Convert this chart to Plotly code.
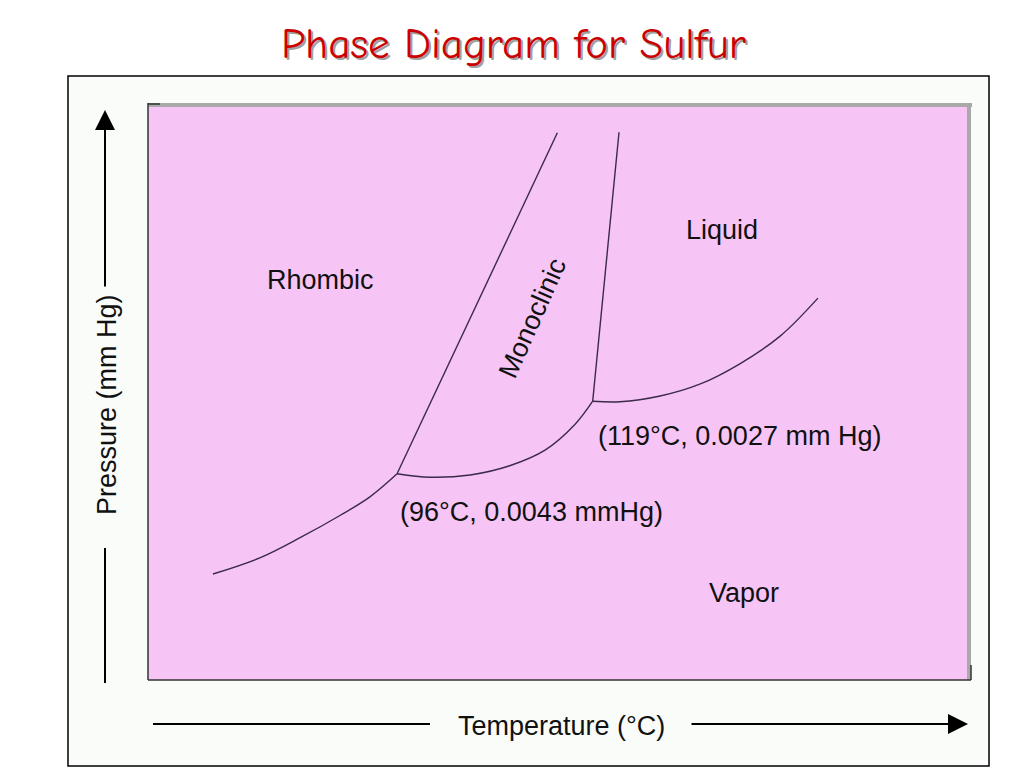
import plotly.graph_objects as go

# Schematic coordinates (0-100 on each axis; diagram has no numeric scale)
rv_x = [7.9, 13.6, 18.5, 23.4, 27.0, 30.3]          # rhombic / vapor
rv_y = [18.4, 21.2, 24.7, 28.6, 31.8, 35.8]
rm_x = [30.3, 49.8]                                  # rhombic / monoclinic
rm_y = [35.8, 95.0]
mv_x = [30.3, 34.3, 39.2, 44.0, 48.3, 51.9, 54.1]    # monoclinic / vapor
mv_y = [35.8, 35.2, 35.6, 37.2, 39.9, 44.3, 48.4]
ml_x = [54.1, 57.3]                                  # monoclinic / liquid
ml_y = [48.4, 95.1]
lv_x = [54.1, 57.4, 62.3, 67.2, 72.0, 76.9, 81.5]    # liquid / vapor
lv_y = [48.4, 48.3, 49.3, 51.4, 54.9, 59.7, 66.3]

region_labels = ["Rhombic", "Liquid", "Vapor", "(96°C, 0.0043 mmHg)", "(119°C, 0.0027 mm Hg)"]
region_x = [21.0, 69.8, 72.5, 46.6, 72.0]
region_y = [69.4, 78.1, 15.1, 29.2, 42.4]
mono_label, mono_x, mono_y = "Monoclinic", 46.8, 62.8

LINE = "#3b2a48"
PINK = "#f6c5f6"
FONT = "Liberation Sans, Arial, sans-serif"
FS = 27

# the page body has an 8px margin; figure is sized so it fits the window
OFF = 8
W, H = 1024 - OFF, 768 - OFF


def px(x):
    return (x - OFF) / W


def py(y):
    return 1 - (y - OFF) / H


fig = go.Figure()
for xs, ys, shape in [(rv_x, rv_y, "spline"), (rm_x, rm_y, "linear"), (mv_x, mv_y, "spline"),
                      (ml_x, ml_y, "linear"), (lv_x, lv_y, "spline")]:
    fig.add_trace(go.Scatter(x=xs, y=ys, mode="lines", line=dict(color=LINE, width=1.4, shape=shape),
                             hoverinfo="skip", showlegend=False))

fig.update_layout(
    width=W, height=H, margin=dict(l=0, r=0, t=0, b=0),
    paper_bgcolor="white", plot_bgcolor=PINK, showlegend=False,
    xaxis=dict(range=[0, 100], domain=[px(148), px(970)], visible=False, fixedrange=True),
    yaxis=dict(range=[0, 100], domain=[py(680), py(104)], visible=False, fixedrange=True),
)

shapes = [
    # outer box
    dict(type="rect", xref="paper", yref="paper", x0=px(68), x1=px(989), y0=py(766), y1=py(76),
         line=dict(color="black", width=1.5), fillcolor="#f9fcf8", layer="below"),
    # pink plot area
    dict(type="rect", xref="paper", yref="paper", x0=px(148), x1=px(970), y0=py(680), y1=py(104),
         line=dict(width=0), fillcolor=PINK, layer="below"),
    # plot area borders: gray top/right, dark left/bottom
    dict(type="line", xref="paper", yref="paper", x0=px(148), x1=px(972), y0=py(105), y1=py(105),
         line=dict(color="#a9a9a9", width=4)),
    dict(type="line", xref="paper", yref="paper", x0=px(969), x1=px(969), y0=py(104), y1=py(680),
         line=dict(color="#a9a9a9", width=4)),
    dict(type="line", xref="paper", yref="paper", x0=px(148), x1=px(148), y0=py(103), y1=py(680),
         line=dict(color="#333333", width=1.5)),
    dict(type="line", xref="paper", yref="paper", x0=px(148), x1=px(971), y0=py(680), y1=py(680),
         line=dict(color="#333333", width=1.5)),
    dict(type="line", xref="paper", yref="paper", x0=px(148), x1=px(160), y0=py(104), y1=py(104),
         line=dict(color="#333333", width=1.5)),
    dict(type="line", xref="paper", yref="paper", x0=px(971), x1=px(971), y0=py(665), y1=py(680),
         line=dict(color="#333333", width=1.5)),
    # axis arrow segments
    dict(type="line", xref="paper", yref="paper", x0=px(153), x1=px(430), y0=py(724), y1=py(724),
         line=dict(color="black", width=2)),
    dict(type="line", xref="paper", yref="paper", x0=px(105), x1=px(105), y0=py(548), y1=py(683),
         line=dict(color="black", width=2)),
]
fig.update_layout(shapes=shapes)

annotations = []
# title with shadow
for dx, dy, col in [(2, 2, "#a0a0a0"), (0, 0, "#cc0000")]:
    annotations.append(dict(xref="paper", yref="paper", x=px(513 + dx), y=py(44 + dy), showarrow=False,
                            text="Phase Diagram for Sulfur",
                            font=dict(family="Comic Sans MS, Comic Neue, Noto Sans, sans-serif", size=43, color=col),
                            xanchor="center", yanchor="middle"))
# arrows
annotations.append(dict(xref="paper", yref="paper", x=px(968), y=py(724), ax=-278, ay=0, text="",
                        showarrow=True, arrowhead=2, arrowsize=2, arrowwidth=2, arrowcolor="black"))
annotations.append(dict(xref="paper", yref="paper", x=px(105), y=py(110), ax=0, ay=178, text="",
                        showarrow=True, arrowhead=2, arrowsize=2, arrowwidth=2, arrowcolor="black"))
# axis titles
annotations.append(dict(xref="paper", yref="paper", x=px(561), y=py(726), text="Temperature (°C)",
                        xanchor="center", yanchor="middle",
                        showarrow=False, font=dict(family=FONT, size=FS, color="#111111")))
annotations.append(dict(xref="paper", yref="paper", x=px(107), y=py(405), text="Pressure (mm Hg)",
                        xanchor="center", yanchor="middle",
                        showarrow=False, textangle=-90, font=dict(family=FONT, size=FS, color="#111111")))
# region labels
for t, x, y in zip(region_labels, region_x, region_y):
    annotations.append(dict(x=x, y=y, text=t, showarrow=False, xanchor="center", yanchor="middle",
                            font=dict(family=FONT, size=FS, color="#111111")))
annotations.append(dict(x=mono_x, y=mono_y, text=mono_label, showarrow=False, textangle=-66,
                        xanchor="center", yanchor="middle",
                        font=dict(family=FONT, size=FS, color="#111111")))
fig.update_layout(annotations=annotations)

fig.write_html("out.html")
